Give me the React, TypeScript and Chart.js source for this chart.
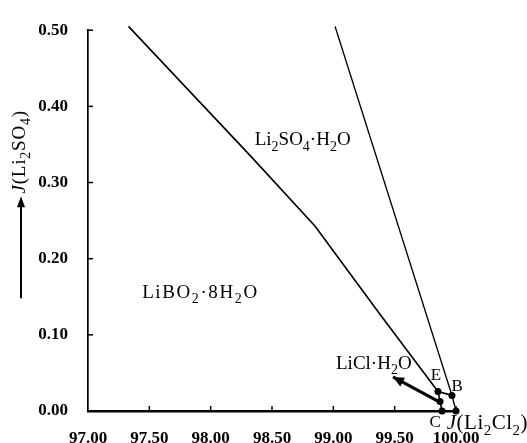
import React, { useEffect, useRef } from 'react';
import { Chart, registerables } from 'chart.js';

Chart.register(...registerables);

// ---- data ----
const xTickValues = [97.0, 97.5, 98.0, 98.5, 99.0, 99.5, 100.0];
const yTickValues = [0.0, 0.1, 0.2, 0.3, 0.4, 0.5];

// LiBO2·8H2O / Li2SO4·H2O boundary (ends at E)
const curveEX = [97.33, 98.33, 98.85, 99.38, 99.853];
const curveEY = [0.505, 0.334, 0.243, 0.127, 0.0256];

// Li2SO4·H2O / LiCl·H2O boundary (through B to J)
const curveBX = [99.014, 99.967, 100.0];
const curveBY = [0.505, 0.0205, 0.0];

// E – B
const tieEBX = [99.853, 99.967];
const tieEBY = [0.0256, 0.0205];

// E – C
const tieECX = [99.853, 99.87, 99.886];
const tieECY = [0.0256, 0.0125, 0.0];

// crystallization arrow (tail -> head)
const arrowX = [99.875, 99.486];
const arrowY = [0.011, 0.0448];

// invariant / special points
const pointX = [99.853, 99.967, 99.886, 100.0, 99.87];
const pointY = [0.0256, 0.0205, 0.0, 0.0, 0.0125];

// field labels
const fieldText = ['Li_2SO_4·H_2O', 'LiBO_2·8H_2O', 'LiCl·H_2O'];
const fieldX = [98.75, 97.91, 99.33];
const fieldY = [0.357, 0.157, 0.063];

// point labels
const pointText = ['E', 'B', 'C', '~J(Li_2Cl_2)'];
const pointLabelX = [99.837, 100.01, 99.83, 99.925];
const pointLabelY = [0.0486, 0.033, -0.014, -0.015];

const yTitle = '~J(Li_2SO_4)';

const SERIF = '"Liberation Serif", "DejaVu Serif", serif';

function toXY(xs: number[], ys: number[]) {
  return xs.map((v, i) => ({ x: v, y: ys[i] }));
}

type Seg = { t: string; sub: boolean; it: boolean };
function parseRich(s: string): Seg[] {
  const out: Seg[] = [];
  for (let i = 0; i < s.length; i++) {
    const c = s[i];
    if (c === '_') {
      out.push({ t: s[i + 1], sub: true, it: false });
      i++;
    } else if (c === '~') {
      out.push({ t: s[i + 1], sub: false, it: true });
      i++;
    } else {
      out.push({ t: c, sub: false, it: false });
    }
  }
  return out;
}

function segFont(seg: Seg, size: number) {
  const sz = seg.sub ? Math.round(size * 0.72) : size;
  return `${seg.it ? 'italic ' : ''}${sz}px ${SERIF}`;
}

function drawRich(
  ctx: CanvasRenderingContext2D,
  text: string,
  x: number,
  yCenter: number,
  size: number,
  align: string,
  tracking = 0
) {
  const segs = parseRich(text);
  let total = 0;
  const widths: number[] = [];
  for (const s of segs) {
    ctx.font = segFont(s, size);
    const w = ctx.measureText(s.t).width + tracking;
    widths.push(w);
    total += w;
  }
  total -= tracking;
  let cx = align === 'center' ? x - total / 2 : align === 'right' ? x - total : x;
  const base = yCenter + size * 0.33;
  ctx.textBaseline = 'alphabetic';
  ctx.textAlign = 'left';
  segs.forEach((s, i) => {
    ctx.font = segFont(s, size);
    ctx.fillText(s.t, cx, s.sub ? base + size * 0.27 : base);
    cx += widths[i];
  });
}

const overlayPlugin = {
  id: 'overlay',
  afterDraw(chart: any) {
    const { ctx, scales } = chart;
    const xs = scales.x;
    const ys = scales.y;
    ctx.save();
    ctx.fillStyle = '#000';
    ctx.strokeStyle = '#000';

    // inner tick marks
    ctx.lineWidth = 1.5;
    xTickValues.slice(1).forEach((v) => {
      const px = xs.getPixelForValue(v);
      ctx.beginPath();
      ctx.moveTo(px, ys.bottom);
      ctx.lineTo(px, ys.bottom - 5);
      ctx.stroke();
    });
    yTickValues.slice(1).forEach((v) => {
      const py = ys.getPixelForValue(v);
      ctx.beginPath();
      ctx.moveTo(xs.left, py);
      ctx.lineTo(xs.left + 5, py);
      ctx.stroke();
    });

    // arrow head of crystallization path
    const tx = xs.getPixelForValue(arrowX[0]);
    const ty = ys.getPixelForValue(arrowY[0]);
    const hx = xs.getPixelForValue(arrowX[1]);
    const hy = ys.getPixelForValue(arrowY[1]);
    const ang = Math.atan2(hy - ty, hx - tx);
    const L = 11;
    const W = 5;
    ctx.beginPath();
    ctx.moveTo(hx, hy);
    ctx.lineTo(hx - L * Math.cos(ang) + W * Math.sin(ang), hy - L * Math.sin(ang) - W * Math.cos(ang));
    ctx.lineTo(hx - L * Math.cos(ang) - W * Math.sin(ang), hy - L * Math.sin(ang) + W * Math.cos(ang));
    ctx.closePath();
    ctx.fill();

    // field labels
    fieldText.forEach((t, i) => {
      drawRich(
        ctx,
        t,
        xs.getPixelForValue(fieldX[i]),
        ys.getPixelForValue(fieldY[i]),
        19,
        'center',
        i === 1 ? 1.6 : 0
      );
    });
    // point labels
    pointText.forEach((t, i) => {
      drawRich(
        ctx,
        t,
        xs.getPixelForValue(pointLabelX[i]),
        ys.getPixelForValue(pointLabelY[i]),
        i === 3 ? 21 : 17,
        i === 3 ? 'left' : 'center',
        i === 3 ? 0.5 : 0
      );
    });

    // y axis title with arrow
    const titleX = xs.left - 69;
    ctx.save();
    ctx.translate(titleX, ys.top + 122);
    ctx.rotate(-Math.PI / 2);
    drawRich(ctx, yTitle, 0, 0, 19, 'center', 0.8);
    ctx.restore();

    const ax = xs.left - 67;
    const aTop = ys.top + 166;
    const aBot = ys.top + 268;
    ctx.lineWidth = 2;
    ctx.beginPath();
    ctx.moveTo(ax, aBot);
    ctx.lineTo(ax, aTop + 8);
    ctx.stroke();
    ctx.beginPath();
    ctx.moveTo(ax, aTop);
    ctx.lineTo(ax - 4, aTop + 11);
    ctx.lineTo(ax + 4, aTop + 11);
    ctx.closePath();
    ctx.fill();

    ctx.restore();
  },
};

export default function App() {
  const ref = useRef<HTMLCanvasElement | null>(null);

  useEffect(() => {
    if (!ref.current) return;
    const line = (xs: number[], ys: number[], w: number) => ({
      data: toXY(xs, ys),
      showLine: true,
      borderColor: '#000',
      backgroundColor: '#000',
      borderWidth: w,
      pointRadius: 0,
      tension: 0,
      clip: false as any,
    });
    const chart = new Chart(ref.current, {
      type: 'scatter',
      data: {
        datasets: [
          line(curveEX, curveEY, 1.6),
          line(curveBX, curveBY, 1.4),
          line(tieEBX, tieEBY, 1.6),
          line(tieECX, tieECY, 1.6),
          line(arrowX, arrowY, 3),
          {
            data: toXY(pointX, pointY),
            showLine: false,
            pointRadius: 3.5,
            pointBackgroundColor: '#000',
            pointBorderColor: '#000',
            borderWidth: 0,
            clip: false as any,
          },
        ],
      },
      options: {
        animation: false,
        responsive: false,
        events: [],
        layout: { padding: { top: 20, right: 71, left: 0, bottom: 0 } },
        plugins: { legend: { display: false }, tooltip: { enabled: false } },
        scales: {
          x: {
            type: 'linear',
            min: 97,
            max: 100,
            afterFit: (s: any) => {
              s.height = 32;
            },
            afterBuildTicks: (s: any) => {
              s.ticks = xTickValues.map((v) => ({ value: v }));
            },
            grid: { display: false, drawTicks: false },
            border: { display: true, color: '#000', width: 2.5 },
            ticks: {
              padding: 17,
              color: '#000',
              maxRotation: 0,
              autoSkip: false,
              font: { family: SERIF, size: 17, weight: 'bold' },
              callback: (v: any) => Number(v).toFixed(2),
            },
          },
          y: {
            type: 'linear',
            min: 0,
            max: 0.5,
            afterFit: (s: any) => {
              s.width = 88;
            },
            afterBuildTicks: (s: any) => {
              s.ticks = yTickValues.map((v) => ({ value: v }));
            },
            grid: { display: false, drawTicks: false },
            border: { display: true, color: '#000', width: 1.7 },
            ticks: {
              padding: 20,
              color: '#000',
              autoSkip: false,
              font: { family: SERIF, size: 17, weight: 'bold' },
              callback: (v: any) => Number(v).toFixed(2),
            },
          },
        },
      },
      plugins: [overlayPlugin],
    });
    return () => chart.destroy();
  }, []);

  return (
    <div style={{ position: 'fixed', left: 0, top: 0, width: 527, height: 443, background: '#fff' }}>
      <canvas ref={ref} width={527} height={443} style={{ width: 527, height: 443 }} />
    </div>
  );
}
